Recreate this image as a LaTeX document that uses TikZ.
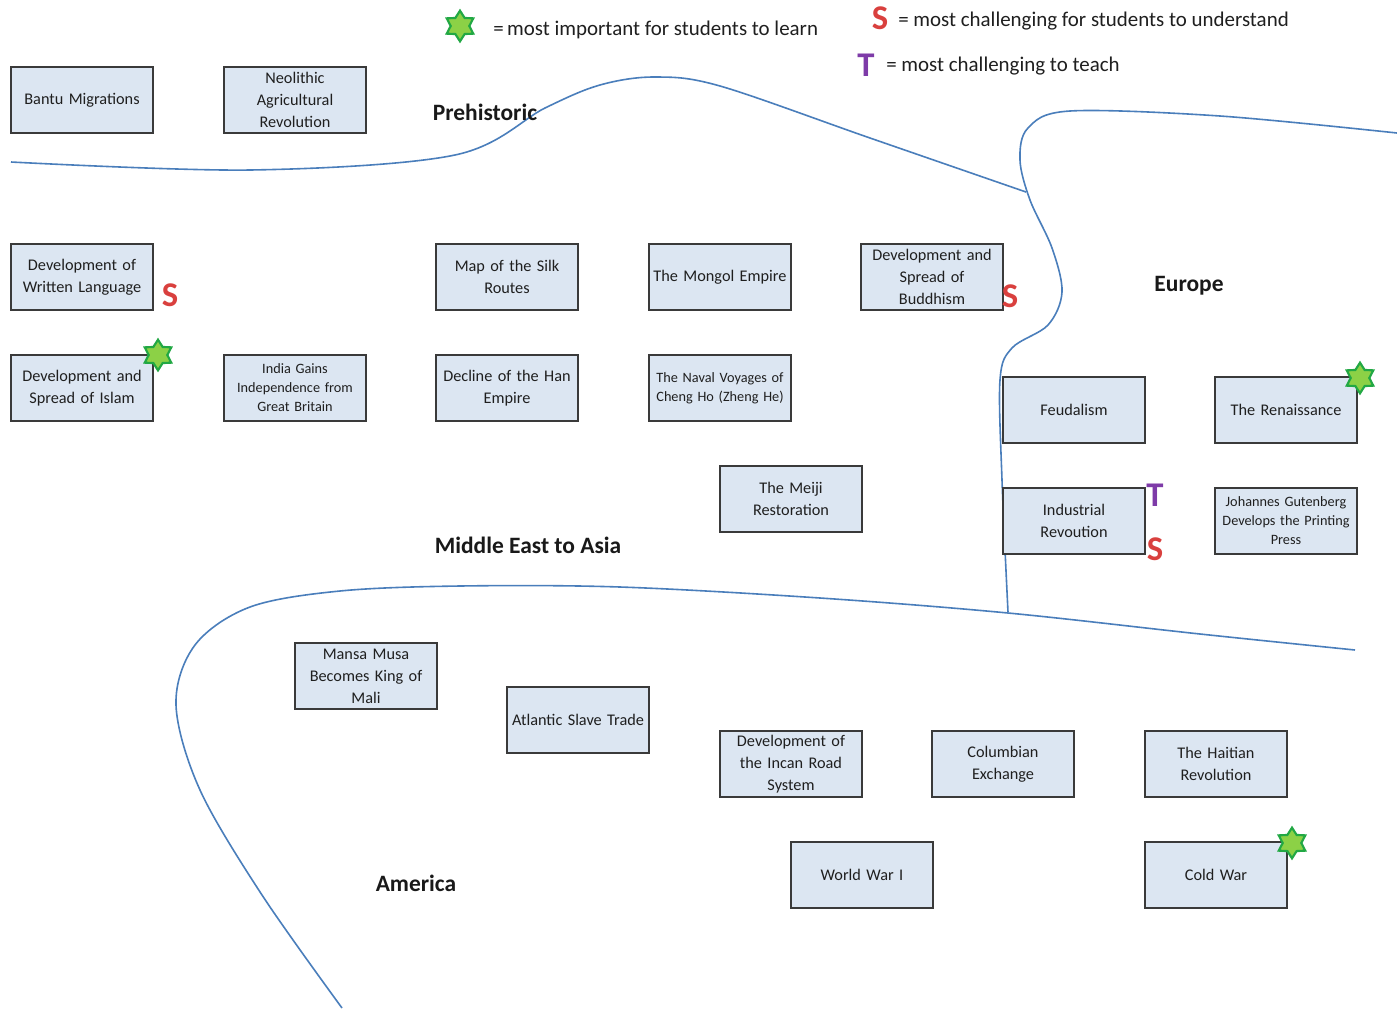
\documentclass[tikz,border=0pt]{standalone}
\usepackage{fontspec}
\setmainfont{Carlito}
\usetikzlibrary{shapes.geometric}
\definecolor{boxfill}{HTML}{DCE6F2}
\definecolor{boxline}{HTML}{3A3A3A}
\definecolor{border}{HTML}{4A7EBB}
\definecolor{starfill}{HTML}{8CD146}
\definecolor{starline}{HTML}{22A844}
\definecolor{sred}{HTML}{D9403E}
\definecolor{tpurple}{HTML}{7E3BA8}
\tikzset{
  topic/.style={draw=boxline, line width=1pt, fill=boxfill, minimum width=106.5pt,
    minimum height=49.5pt, text width=105pt, align=center, inner sep=0.5pt,
    font=\fontsize{12.2}{16.5}\selectfont, text=black!88},
  smalltopic/.style={topic, font=\fontsize{10.7}{14.2}\selectfont},
  region/.style={font=\bfseries\fontsize{17.6}{20}\selectfont, text=black!90},
  legend/.style={anchor=west, font=\fontsize{15.7}{18}\selectfont, text=black!88, inner sep=0pt},
  border line/.style={draw=border, line width=1.2pt},
  importance/.style={star, star points=6, star point ratio=1.65, minimum size=23pt,
    inner sep=0pt, fill=starfill, draw=starline, line width=1.6pt},
  smark/.style={font=\bfseries\fontsize{26}{26}\selectfont, text=sred, inner sep=0pt},
  tmark/.style={font=\bfseries\fontsize{26}{26}\selectfont, text=tpurple, inner sep=0pt}
}
\begin{document}
\begin{tikzpicture}[x=0.75pt, y=-0.75pt]
\useasboundingbox (0,0) rectangle (1397,1008);
\fill[white] (0,0) rectangle (1397,1008);

% region borders
\draw[border line] plot[smooth, tension=0.55] coordinates
  {(11,162) (250,170) (455,155) (545,108) (600,85) (655,77) (720,86) (870,138) (1026,192)};
\draw[border line] plot[smooth, tension=0.55] coordinates
  {(1397,133) (1220,116) (1070,111) (1028,128) (1020,160) (1030,200) (1052,248) (1062,292)
   (1048,325) (1012,348) (1000,380) (1002,480) (1008,612)};
\draw[border line] plot[smooth, tension=0.55] coordinates
  {(342,1008) (262,895) (200,790) (176,705) (195,645) (250,607) (340,591) (460,586)
   (620,587) (820,598) (1008,613) (1200,634) (1355,650)};

% legend
\node[importance] (legstar) at (460,26) {};
\node[legend] (legstartext) at (493,30) {=\,most important for students to learn};
\node[smark] (legs) at (880,18) {S};
\node[legend] (legstext) at (898,21) {= most challenging for students to understand};
\node[tmark] (legt) at (866,65) {T};
\node[legend] (legttext) at (886,66) {= most challenging to teach};

% region names
\node[region] (prehist) at (485,112) {Prehistoric};
\node[region] (meast) at (528,545) {Middle East to Asia};
\node[region] (europe) at (1189,286) {Europe};
\node[region] (america) at (416,883) {America};

% topics
\node[topic] (bantu) at (82,100) {Bantu Migrations};
\node[topic] (neolithic) at (295,100) {Neolithic\\Agricultural\\Revolution};
\node[topic] (written) at (82,277) {Development of\\Written Language};
\node[topic] (silk) at (507,277) {Map of the Silk\\Routes};
\node[topic] (mongol) at (720,277) {The Mongol Empire};
\node[topic] (buddhism) at (932,277) {Development and\\Spread of\\Buddhism};
\node[topic] (islam) at (82,388) {Development and\\Spread of Islam};
\node[smalltopic] (india) at (295,388) {India Gains\\Independence from\\Great Britain};
\node[topic] (han) at (507,388) {Decline of the Han\\Empire};
\node[smalltopic] (naval) at (720,388) {The Naval Voyages of\\Cheng Ho (Zheng He)};
\node[topic] (meiji) at (791,499) {The Meiji\\Restoration};
\node[topic] (feudal) at (1074,410) {Feudalism};
\node[topic] (renaiss) at (1286,410) {The Renaissance};
\node[topic] (industrial) at (1074,521) {Industrial\\Revoution};
\node[smalltopic] (gutenberg) at (1286,521) {Johannes Gutenberg\\Develops the Printing\\Press};
\node[topic] (mansa) at (366,676) {Mansa Musa\\Becomes King of\\Mali};
\node[topic] (slave) at (578,720) {Atlantic Slave Trade};
\node[topic] (incan) at (791,764) {Development of\\the Incan Road\\System};
\node[topic] (columbian) at (1003,764) {Columbian\\Exchange};
\node[topic] (haitian) at (1216,764) {The Haitian\\Revolution};
\node[topic] (ww1) at (862,875) {World War I};
\node[topic] (coldwar) at (1216,875) {Cold War};

% markers
\node[importance] (islamstar) at (158,355) {};
\node[importance] (renstar) at (1360,378) {};
\node[importance] (coldstar) at (1292,843) {};
\node[smark] (writtens) at (170,295) {S};
\node[smark] (buddhisms) at (1010,296) {S};
\node[smark] (industrials) at (1155,549) {S};
\node[tmark] (industrialt) at (1155,495) {T};
\end{tikzpicture}
\end{document}
